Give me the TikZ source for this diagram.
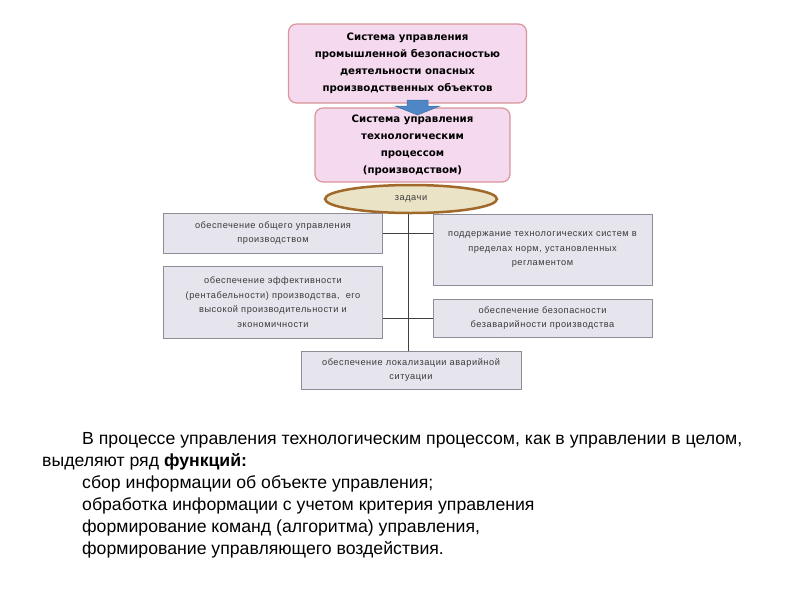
\documentclass[tikz,border=0pt]{standalone}
\usepackage{fontspec}
\setmainfont{Liberation Sans}
\newfontfamily\titlefont{DejaVu Sans}
\newfontfamily\smallfont[LetterSpace=6]{Liberation Sans}
\newfontfamily\narrowfont[FakeStretch=1.01]{Liberation Sans}
\usetikzlibrary{shapes.geometric,calc}
\definecolor{pinkfill}{HTML}{F5D9EE}
\definecolor{pinkline}{HTML}{D9959B}
\definecolor{greyfill}{HTML}{E6E4EC}
\definecolor{greyline}{HTML}{8E8D96}
\definecolor{tanfill}{HTML}{EAE3C6}
\definecolor{brownline}{HTML}{A0692A}
\definecolor{arrowblue}{HTML}{4F86C6}
\definecolor{txtgrey}{HTML}{3A3A3A}
\tikzset{
  titlebox/.style={draw=pinkline, line width=1.2pt, fill=pinkfill, rounded corners=8pt,
    align=center, font=\titlefont\bfseries\fontsize{10.2}{17}\selectfont, inner sep=0pt},
  taskbox/.style={draw=greyline, line width=0.9pt, fill=greyfill, align=center,
    font=\smallfont\fontsize{9.2}{14.5}\selectfont, text=txtgrey, inner sep=0pt},
  link/.style={draw=black!75, line width=0.7pt},
  para/.style={anchor=base west, inner sep=0pt, font=\narrowfont\fontsize{17.5}{22}\selectfont}
}
\begin{document}
\begin{tikzpicture}[x=1pt,y=-1pt]
\useasboundingbox (0,0) rectangle (800,600);
\fill[white] (0,0) rectangle (800,600);
\node[titlebox, minimum width=238pt, minimum height=79pt] (top) at (407.5,63.5)
  {Система управления\\промышленной безопасностью\\деятельности опасных\\производственных объектов};
\node[titlebox, minimum width=195pt, minimum height=74pt] (mid) at (412.5,145)
  {Система управления\\технологическим\\процессом\\(производством)};
\draw[fill=arrowblue, draw=arrowblue!85!black, line width=0.5pt]
  (407,100) -- (428,100) -- (428,106) -- (440,106) -- (417.5,115) -- (395,106) -- (407,106) -- cycle;
\node[ellipse, draw=brownline, line width=2.5pt, fill=tanfill, minimum width=172pt, minimum height=28pt,
  inner sep=0pt, font=\smallfont\fontsize{9.2}{11}\selectfont, text=txtgrey] (ell) at (411,199) {задачи};
\node[taskbox, minimum width=219pt, minimum height=40pt] (lb1) at (273,233)
  {обеспечение общего управления\\производством};
\node[taskbox, minimum width=219pt, minimum height=71pt] (rb1) at (542.5,249.5)
  {поддержание технологических систем в\\пределах норм, установленных\\регламентом};
\node[taskbox, minimum width=219pt, minimum height=72pt] (lb2) at (273,302)
  {обеспечение эффективности\\(рентабельности) производства,\ \ его\\высокой производительности и\\экономичности};
\node[taskbox, minimum width=219pt, minimum height=38pt] (rb2) at (542.5,318)
  {обеспечение безопасности\\безаварийности производства};
\node[taskbox, minimum width=220pt, minimum height=38pt] (bot) at (411,370)
  {обеспечение локализации аварийной\\ситуации};
\draw[link] ([xshift=-3pt]ell.south) -- ([xshift=-3pt]ell.south |- bot.north);
\draw[link] (lb1.east) -- (lb1.east -| rb1.west);
\draw[link] (rb2.west) -- (rb2.west -| lb2.east);
\node[para] (p1) at (82,444) {В процессе управления технологическим процессом, как в управлении в целом,};
\node[para] (p2) at (42,466) {выделяют ряд \textbf{функций:}};
\node[para] (p3) at (82,488) {сбор информации об объекте управления;};
\node[para] (p4) at (82,510) {обработка информации с учетом критерия управления};
\node[para] (p5) at (82,532) {формирование команд (алгоритма) управления,};
\node[para] (p6) at (82,554) {формирование управляющего воздействия.};
\end{tikzpicture}
\end{document}
